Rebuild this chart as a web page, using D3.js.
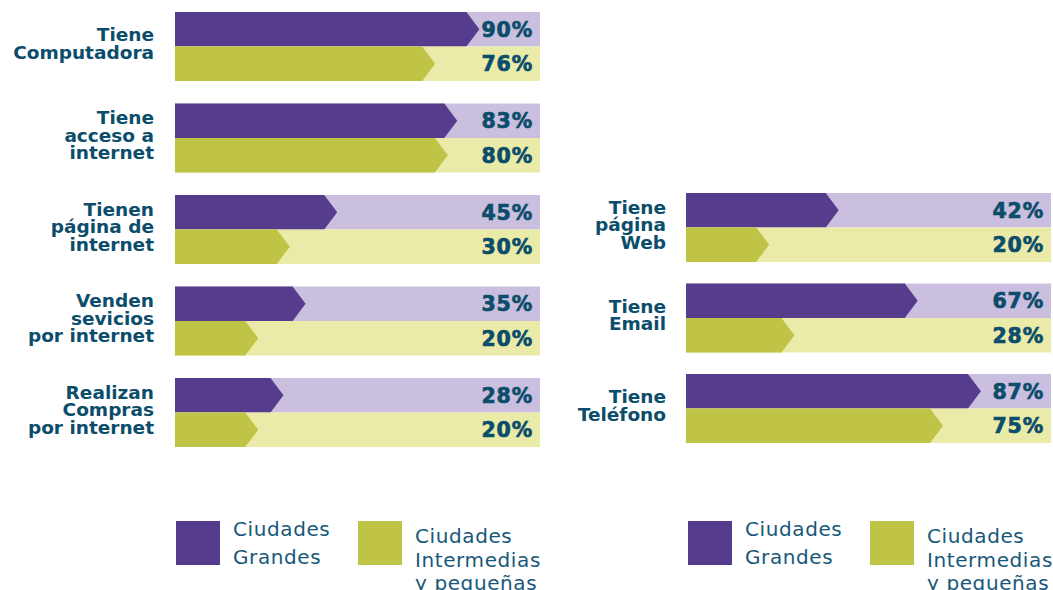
<!DOCTYPE html>
<html>
<head>
<meta charset="utf-8">
<script src="https://cdn.jsdelivr.net/npm/d3@7"></script>
<style>
html,body{margin:0;padding:0;background:#fff;}
svg{display:block;}
</style>
</head>
<body>
<svg id="chart" width="1053" height="590"></svg>
<script>
// ---- DATA ----
const leftCategories = [
  ["Tiene","Computadora"],
  ["Tiene","acceso a","internet"],
  ["Tienen","página de","internet"],
  ["Venden","sevicios","por internet"],
  ["Realizan","Compras","por internet"]
];
const leftGrandes = [90, 83, 45, 35, 28];
const leftIntermedias = [76, 80, 30, 20, 20];

const rightCategories = [
  ["Tiene","página","Web"],
  ["Tiene","Email"],
  ["Tiene","Teléfono"]
];
const rightGrandes = [42, 67, 87];
const rightIntermedias = [20, 28, 75];

const seriesNames = [["Ciudades","Grandes"], ["Ciudades","Intermedias","y pequeñas"]];

// ---- STYLE ----
const C = {
  dark: ["#553c8c", "#bfc446"],
  light: ["#cbbfdf", "#eaeba8"],
  label: "#0b4d6b",
  legend: "#17587a"
};
const FONT = "'DejaVu Sans', 'Noto Sans', sans-serif";

const svg = d3.select("#chart");

function panel(opts) {
  const { cats, g1, g2, x0, x1, yStart, step, labelX } = opts;
  const n = cats.length;
  const bandH = 69;
  const pad = (step - bandH) / step;
  const y = d3.scaleBand()
    .domain(d3.range(n))
    .range([yStart, yStart + step * (n - pad)])
    .paddingInner(pad).paddingOuter(0);
  const sub = d3.scaleBand().domain([0, 1]).range([0, y.bandwidth()]);
  const x = d3.scaleLinear().domain([0, 100]).range([x0 + 20, x0 + 336]);

  const g = svg.append("g");
  const arrowW = 13;

  d3.range(n).forEach(i => {
    const vals = [g1[i], g2[i]];
    const gy = y(i);
    vals.forEach((v, s) => {
      const top = gy + sub(s);
      const h = sub.bandwidth();
      g.append("rect")
        .attr("x", x0).attr("y", top)
        .attr("width", x1 - x0).attr("height", h)
        .attr("fill", C.light[s]);
      const tip = x(v);
      const path = d3.path();
      path.moveTo(x0, top);
      path.lineTo(tip - arrowW, top);
      path.lineTo(tip, top + h / 2);
      path.lineTo(tip - arrowW, top + h);
      path.lineTo(x0, top + h);
      path.closePath();
      g.append("path").attr("d", path.toString()).attr("fill", C.dark[s]);
      g.append("text")
        .attr("x", x1 - 7).attr("y", top + h / 2)
        .attr("dy", "0.37em")
        .attr("text-anchor", "end")
        .attr("font-family", FONT)
        .attr("font-weight", 700)
        .attr("font-size", 20.5)
        .attr("letter-spacing", 0.8)
        .attr("stroke", C.label)
        .attr("stroke-width", 0.7)
        .attr("fill", C.label)
        .text(v + "%");
    });
    // category label
    const lines = cats[i];
    const lh = 17.5;
    const cy = gy + y.bandwidth() / 2 - 3;
    const t = g.append("text")
      .attr("text-anchor", "end")
      .attr("font-family", FONT)
      .attr("font-weight", 700)
      .attr("font-size", 18.5)
      .attr("fill", C.label);
    lines.forEach((ln, k) => {
      t.append("tspan")
        .attr("x", labelX)
        .attr("y", cy + (k - (lines.length - 1) / 2) * lh)
        .attr("dy", "0.36em")
        .text(ln);
    });
  });
}

panel({ cats: leftCategories, g1: leftGrandes, g2: leftIntermedias,
        x0: 175, x1: 540, yStart: 12, step: 91.5, labelX: 154 });
panel({ cats: rightCategories, g1: rightGrandes, g2: rightIntermedias,
        x0: 686, x1: 1051, yStart: 193, step: 90.5, labelX: 666 });

// ---- LEGENDS ----
function legend(xStart) {
  const g = svg.append("g");
  const items = [
    { x: xStart, textX: xStart + 57, firstBase: 536, lh: 28 },
    { x: xStart + 182, textX: xStart + 239, firstBase: 543, lh: 23.5 }
  ];
  items.forEach((it, s) => {
    g.append("rect").attr("x", it.x).attr("y", 521)
      .attr("width", 44).attr("height", 44).attr("fill", C.dark[s]);
    const t = g.append("text")
      .attr("font-family", FONT)
      .attr("font-size", 20)
      .attr("letter-spacing", 0.6)
      .attr("fill", C.legend);
    seriesNames[s].forEach((ln, k) => {
      t.append("tspan").attr("x", it.textX)
        .attr("y", it.firstBase + k * it.lh).text(ln);
    });
  });
}
legend(176);
legend(688);
</script>
</body>
</html>
